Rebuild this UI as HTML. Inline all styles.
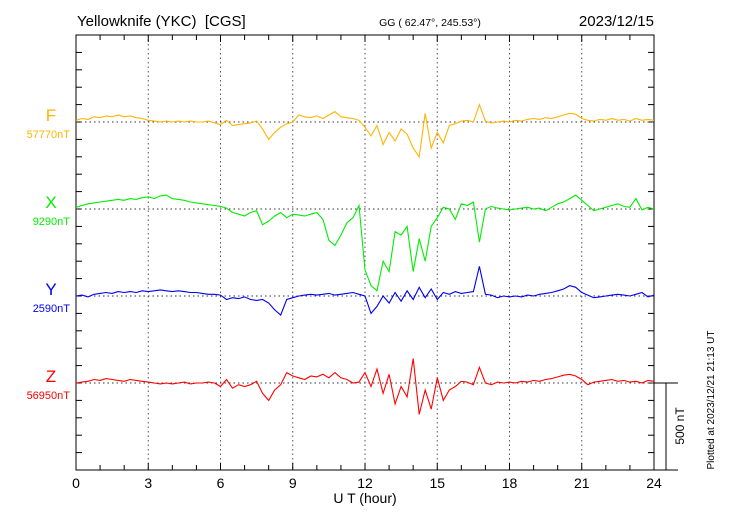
<!DOCTYPE html>
<html><head><meta charset="utf-8"><style>
body{margin:0;background:#fff;}
svg{display:block;font-family:"Liberation Sans",sans-serif;}
</style></head><body>
<svg id="c" width="730" height="520" viewBox="0 0 730 520">
<text x="77" y="26" font-size="15" style="white-space:pre">Yellowknife (YKC)  [CGS]</text>
<text x="430" y="26" font-size="10.5" text-anchor="middle">GG ( 62.47°, 245.53°)</text>
<text x="654" y="26" font-size="15" text-anchor="end">2023/12/15</text>
<text x="365" y="503" font-size="14" text-anchor="middle">U T (hour)</text>
<text transform="translate(714,400) rotate(-90)" font-size="10" text-anchor="middle">Plotted at 2023/12/21 21:13 UT</text>
<text transform="translate(684,426) rotate(-90)" font-size="12" text-anchor="middle">500 nT</text>
<g id="grid"></g><g id="series"></g><g id="labels"></g>
</svg>
<script>
const hourTicks=[0,3,6,9,12,15,18,21,24];
const seriesNames=["F","X","Y","Z"];
const seriesBaselines=["57770nT","9290nT","2590nT","56950nT"];
const fVals=[10,20,15,30,25,35,30,40,30,35,25,20,10,5,0,5,0,5,0,5,0,0,5,-5,-15,10,-20,-15,-10,-5,5,-40,-100,-60,-30,-10,0,40,30,25,35,20,40,60,30,25,20,10,-30,-80,-20,-130,-60,-110,-40,-70,-150,-200,50,-150,-60,-120,-20,-10,5,10,0,100,5,-5,0,5,0,10,5,15,20,15,25,20,30,40,50,45,20,10,5,15,10,20,10,15,5,20,10,15,10];
const xVals=[10,20,30,35,40,45,50,55,50,60,55,65,70,60,75,80,60,55,50,40,35,30,25,20,15,5,-20,-30,-40,-20,-10,-90,-70,-40,-20,-50,-30,-35,-40,-30,-20,-60,-180,-210,-150,-80,-50,20,-350,-440,-470,-300,-360,-130,-150,-100,-360,-170,-300,-100,-50,10,0,-60,30,20,40,-190,0,15,5,0,-5,0,5,10,0,5,-10,10,30,40,60,80,50,20,-10,0,10,20,30,15,10,60,-5,10,0];
const yVals=[0,5,-5,10,15,20,15,25,20,25,20,30,25,30,35,30,25,30,25,20,20,15,10,10,5,-20,-10,-15,-5,-20,-25,-20,-40,-80,-110,-20,-10,0,5,10,5,10,15,5,10,15,20,10,0,-100,-60,0,-40,20,-30,30,-20,50,-10,40,-20,20,10,25,15,20,25,170,10,5,-10,0,-5,0,-5,5,0,10,15,20,30,40,60,50,20,5,-10,-5,0,5,10,5,0,10,20,-5,5];
const zVals=[0,5,10,20,15,25,20,15,10,20,15,10,5,0,-5,0,-5,0,5,-5,0,0,5,0,-20,20,-30,-10,-20,-10,10,-60,-100,-40,-10,60,40,30,20,40,35,50,30,60,30,20,0,5,60,-20,80,-60,50,-120,-20,-80,140,-180,-40,-150,30,-100,-40,-20,10,5,-10,90,0,-10,5,0,5,0,10,5,15,10,20,25,35,45,50,40,20,-10,5,10,15,20,10,15,5,10,0,15,10];
const allVals=[fVals,xVals,yVals,zVals];
const colors=["#ffb400","#00ee00","#0000ee","#ff0000"];
const L=76,R=654,T=35,B=470,PX100=17.4;
const baseY=[122,209,296,383];
const sx=h=>L+(R-L)*h/24;
const sy=(k,v)=>baseY[k]-v*PX100/100;
const NS="http://www.w3.org/2000/svg";
function mk(p,tag,at){const e=document.createElementNS(NS,tag);for(const k in at)e.setAttribute(k,at[k]);p.appendChild(e);return e;}
const grid=document.getElementById('grid'),ser=document.getElementById('series'),lab=document.getElementById('labels');
let e=mk(grid,'rect',{x:L,y:T,width:R-L,height:B-T,fill:'none',stroke:'#000','stroke-width':1});


hourTicks.forEach(h=>{
 if(h>0&&h<24){e=mk(grid,'line',{x1:sx(h),x2:sx(h),y1:T,y2:B,stroke:'#555','stroke-dasharray':'1.5,3','stroke-width':1});
 
 }
 e=mk(grid,'text',{x:sx(h),y:488,'font-size':14,'text-anchor':'middle'});e.textContent=h;
 
 
});
for(let h=0;h<=24;h++){
 const len=h%3===0?7:5;
 mk(grid,'line',{x1:sx(h),x2:sx(h),y1:B,y2:B-len,stroke:'#000'});
 mk(grid,'line',{x1:sx(h),x2:sx(h),y1:T,y2:T+len,stroke:'#000'});
}
for(let y=T+PX100;y<B-1;y+=PX100){
 mk(grid,'line',{x1:L,x2:L+6,y1:y,y2:y,stroke:'#000'});
 mk(grid,'line',{x1:R,x2:R-6,y1:y,y2:y,stroke:'#000'});
}
baseY.forEach(y=>{e=mk(grid,'line',{x1:L,x2:R,y1:y,y2:y,stroke:'#333','stroke-dasharray':'1.5,3'});
 
 });
mk(grid,'line',{x1:R,x2:678,y1:383,y2:383,stroke:'#000'});
mk(grid,'line',{x1:R,x2:678,y1:B,y2:B,stroke:'#000'});
e=mk(grid,'line',{x1:666,x2:666,y1:383,y2:B,stroke:'#000'});


allVals.forEach((vals,k)=>{
 const pts=vals.map((v,i)=>sx(i*24/(vals.length-1)).toFixed(1)+','+sy(k,v).toFixed(1)).join(' ');
 e=mk(ser,'polyline',{points:pts,fill:'none',stroke:colors[k],'stroke-width':1.1});
 
 
 e=mk(lab,'text',{x:51,y:baseY[k]-1,'font-size':17,'text-anchor':'middle',fill:colors[k]});e.textContent=seriesNames[k];
 
 
 e=mk(lab,'text',{x:70,y:baseY[k]+16,'font-size':11,'text-anchor':'end',fill:colors[k]});e.textContent=seriesBaselines[k];
 
 
});
</script>
</body></html>
